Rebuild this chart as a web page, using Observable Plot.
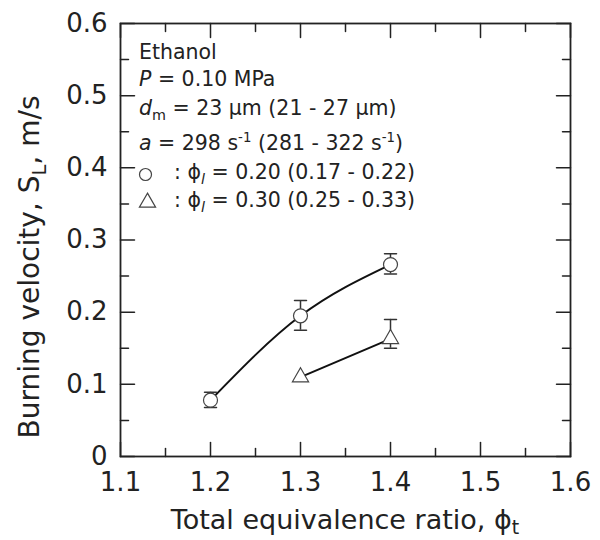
<!DOCTYPE html>
<html>
<head>
<meta charset="utf-8">
<script src="https://cdn.jsdelivr.net/npm/d3@7"></script>
<script src="https://cdn.jsdelivr.net/npm/@observablehq/plot@0.6"></script>
<style>
  body { margin: 0; background: #fff; }
  #wrap { position: relative; width: 600px; height: 540px; font-family: "DejaVu Sans", sans-serif; color: #222; background: #fff; }
  .t { position: absolute; white-space: nowrap; font-size: 20.5px; line-height: 20px; }
  .sub { font-size: 70%; position: relative; top: 0.35em; }
  .sup { font-size: 65%; position: relative; top: -0.6em; }
  #xtitle { position: absolute; left: 0; width: 690px; text-align: center; font-size: 27px; line-height: 27px; top: 506px; white-space: nowrap; }
  #xtitle .sub { top: 0.25em; }
  #ytitle { position: absolute; width: 500px; height: 28px; left: -220px; top: 253px; text-align: center; font-size: 28px; line-height: 28px; transform: rotate(-90deg); transform-origin: 250px 14px; white-space: nowrap; }
</style>
</head>
<body>
<div id="wrap"></div>
<script>
// ---- data ----
const phiCircle = [1.2, 1.3, 1.4];
const slCircle = [0.078, 0.195, 0.266];
const errCircleLo = [0.068, 0.175, 0.253];
const errCircleHi = [0.089, 0.216, 0.281];

const phiTriangle = [1.3, 1.4];
const slTriangle = [0.110, 0.163];
const errTriangleLo = [null, 0.150];
const errTriangleHi = [null, 0.190];

const xDomain = [1.1, 1.6];
const yDomain = [0, 0.6];
const xTicks = [1.1, 1.2, 1.3, 1.4, 1.5, 1.6];
const xMinorTicks = [1.15, 1.25, 1.35, 1.45, 1.55];
const yTicks = [0, 0.1, 0.2, 0.3, 0.4, 0.5, 0.6];
const yMinorTicks = [0.05, 0.15, 0.25, 0.35, 0.45, 0.55];

// ---- build tables ----
const circles = phiCircle.map((x, i) => ({x, y: slCircle[i], lo: errCircleLo[i], hi: errCircleHi[i]}));
const triangles = phiTriangle.map((x, i) => ({x, y: slTriangle[i], lo: errTriangleLo[i], hi: errTriangleHi[i]}));
const errs = [...circles, ...triangles].filter(d => d.lo != null);

const stick = { draw(context, l) { context.moveTo(0, 0); context.lineTo(0, -l); } };
const ink = "#222";
const fmtY = d => d === 0 ? "0" : d3.format(".1f")(d);

// inward ticks on all four sides, drawn as short vectors from the frame edges
const tickOpts = {anchor: "start", shape: stick, stroke: ink, strokeWidth: 1.5};
const xTickMarks = (ticks, len) => [
  Plot.vector(ticks.map(v => ({x: v, y: yDomain[0]})), {x: "x", y: "y", rotate: 0, length: len, ...tickOpts}),
  Plot.vector(ticks.map(v => ({x: v, y: yDomain[1]})), {x: "x", y: "y", rotate: 180, length: len, ...tickOpts})
];
const yTickMarks = (ticks, len) => [
  Plot.vector(ticks.map(v => ({x: xDomain[0], y: v})), {x: "x", y: "y", rotate: 90, length: len, ...tickOpts}),
  Plot.vector(ticks.map(v => ({x: xDomain[1], y: v})), {x: "x", y: "y", rotate: -90, length: len, ...tickOpts})
];

const chart = Plot.plot({
  width: 600,
  height: 540,
  marginLeft: 120,
  marginRight: 30,
  marginTop: 23,
  marginBottom: 84,
  x: {domain: xDomain},
  y: {domain: yDomain},
  style: {fontFamily: "DejaVu Sans, sans-serif", fontSize: "26px", color: ink},
  marks: [
    Plot.frame({fill: "none", stroke: ink, strokeWidth: 1.8}),
    ...xTickMarks(xTicks, 14),
    ...xTickMarks(xMinorTicks, 8),
    ...yTickMarks(yTicks, 14),
    ...yTickMarks(yMinorTicks, 8),
    Plot.axisX(xTicks, {anchor: "bottom", tickSize: 0, tickPadding: 16, tickFormat: d3.format(".1f"), fontSize: 26, label: null}),
    Plot.axisY(yTicks, {anchor: "left", tickSize: 0, tickPadding: 13, tickFormat: fmtY, fontSize: 26, label: null}),
    // fitted curves
    Plot.line(circles, {x: "x", y: "y", curve: "natural", stroke: "#111", strokeWidth: 2}),
    Plot.line(triangles, {x: "x", y: "y", curve: "linear", stroke: "#111", strokeWidth: 2}),
    // error bars
    Plot.ruleX(errs, {x: "x", y1: "lo", y2: "hi", stroke: "#333", strokeWidth: 1.5}),
    Plot.vector(errs, {x: "x", y: "hi", rotate: 90, length: 12, anchor: "middle", shape: stick, stroke: "#333", strokeWidth: 1.5}),
    Plot.vector(errs, {x: "x", y: "lo", rotate: 90, length: 12, anchor: "middle", shape: stick, stroke: "#333", strokeWidth: 1.5}),
    // markers
    Plot.dot(circles, {x: "x", y: "y", symbol: "circle", r: 7, fill: "white", stroke: "#444", strokeWidth: 1.2}),
    Plot.dot(triangles, {x: "x", y: "y", symbol: "triangle", r: 6, fill: "white", stroke: "#444", strokeWidth: 1.2}),
    // legend symbols
    Plot.dot([circles[0]], {frameAnchor: "top-left", dx: 25, dy: 151, symbol: "circle", r: 6, fill: "white", stroke: "#444", strokeWidth: 1.2}),
    Plot.dot([triangles[0]], {frameAnchor: "top-left", dx: 27, dy: 179, symbol: "triangle", r: 6, fill: "white", stroke: "#444", strokeWidth: 1.2})
  ]
});

const wrap = document.getElementById("wrap");
wrap.appendChild(chart);

const lines = [
  {left: 139, base: 59, html: "Ethanol"},
  {left: 139, base: 86, html: "<i>P</i> = 0.10 MPa"},
  {left: 139, base: 115, html: "<i>d</i><span class='sub'>m</span> = 23 μm (21 - 27 μm)"},
  {left: 139, base: 150, html: "<i>a</i> = 298 s<span class='sup'>-1</span> (281 - 322 s<span class='sup'>-1</span>)"},
  {left: 174, base: 179, html: ": ϕ<span class='sub'><i>l</i></span> = 0.20 (0.17 - 0.22)"},
  {left: 174, base: 207, html: ": ϕ<span class='sub'><i>l</i></span> = 0.30 (0.25 - 0.33)"}
];
for (const l of lines) {
  const d = document.createElement("div");
  d.className = "t";
  d.style.left = l.left + "px";
  d.style.top = (l.base - 17) + "px";
  d.innerHTML = l.html;
  wrap.appendChild(d);
}
const xt = document.createElement("div");
xt.id = "xtitle";
xt.innerHTML = "Total equivalence ratio, ϕ<span class='sub'>t</span>";
wrap.appendChild(xt);
const yt = document.createElement("div");
yt.id = "ytitle";
yt.innerHTML = "Burning velocity, S<span class='sub'>L</span>, m/s";
wrap.appendChild(yt);
</script>
</body>
</html>
